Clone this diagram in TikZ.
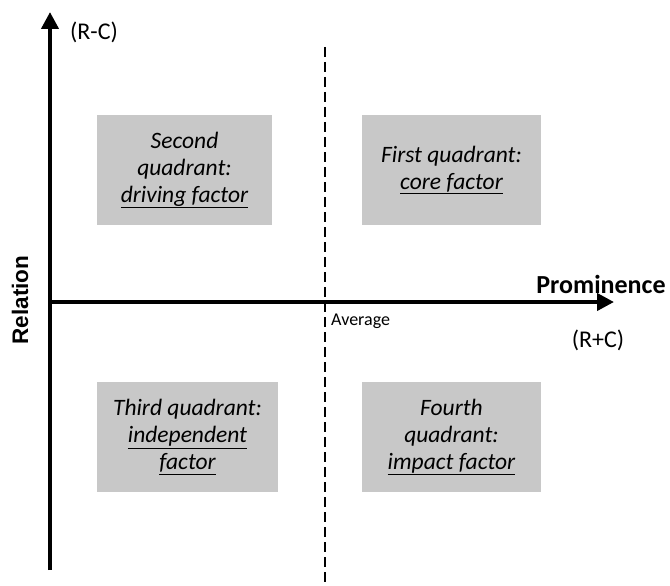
\documentclass[tikz,border=0pt]{standalone}
\usepackage{fontspec}
\setmainfont{Carlito}
\newfontfamily\arialfont{Liberation Sans}
\usetikzlibrary{arrows.meta}
\definecolor{boxgray}{RGB}{200,200,200}
\tikzset{
  axis/.style={line width=4pt, -{Triangle[length=17pt,width=17pt]}},
  quadbox/.style={rectangle, fill=boxgray, draw=none, minimum width=178pt, minimum height=110pt,
    align=center, font=\fontsize{23.5}{27}\selectfont\itshape, inner sep=0pt},
  avgline/.style={line width=2pt, dash pattern=on 10pt off 5pt},
  lbl/.style={inner sep=0pt}
}
\begin{document}
\begin{tikzpicture}[x=1pt,y=-1pt]
\useasboundingbox (0,0) rectangle (670,586);
% axes
\coordinate (o) at (50,302);
\coordinate (ybot) at (50,570);
\coordinate (ytop) at (50,12);
\coordinate (xend) at (614,302);
\coordinate (avgtop) at (325,47);
\coordinate (avgbot) at (325,586);
\draw[avgline] (avgtop) -- (avgbot);
\draw[axis] (ybot) -- (ytop);
\draw[axis] ([xshift=-2pt]o) -- (xend);
% quadrant boxes
\node[quadbox, minimum width=175pt] (q2) at (184.5,170) {Second\\quadrant:\\\underline{driving factor}};
\node[quadbox, minimum width=179pt] (q1) at (451.5,170) {First quadrant:\\\underline{core factor}};
\node[quadbox, minimum width=181pt] (q3) at (187.5,437) {Third quadrant:\\\underline{independent}\\\underline{factor}};
\node[quadbox, minimum width=179pt] (q4) at (451.5,437) {Fourth\\quadrant:\\\underline{impact factor}};
% labels
\node[lbl, font=\fontsize{24}{28}\selectfont] (rc) at (94,32) {(R-C)};
\node[lbl, font=\fontsize{26}{30}\selectfont\bfseries] (prom) at (601,284) {Prominence};
\node[lbl, font=\fontsize{24}{28}\selectfont] (rpc) at (598,340) {(R+C)};
\node[lbl, font=\fontsize{18}{21}\selectfont, anchor=west] (avg) at (331,321) {Average};
\node[lbl, font=\arialfont\fontsize{22.5}{26}\selectfont\bfseries, rotate=90] (rel) at (20,300) {Relation};
\end{tikzpicture}
\end{document}
